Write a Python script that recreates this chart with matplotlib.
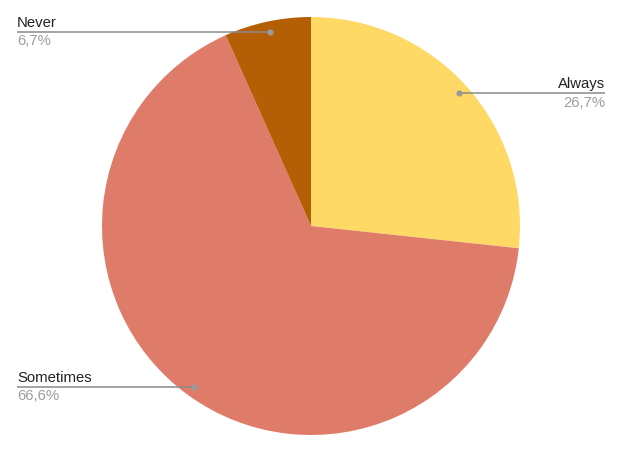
import numpy as np
import matplotlib
matplotlib.use("Agg")
import matplotlib.pyplot as plt

labels = ["Always", "Sometimes", "Never"]
values = [26.7, 66.6, 6.7]
pct_labels = ["26,7%", "66,6%", "6,7%"]
colors = ["#FFD966", "#DF7C69", "#B45F06"]

W, H = 622, 449
fig = plt.figure(figsize=(W / 100, H / 100), dpi=100)
ax = fig.add_axes([0, 0, 1, 1])

cx, cy, R = 311, H - 226, 209
ax.pie(values, colors=colors, startangle=90, counterclock=False,
       center=(cx, cy), radius=R, frame=True,
       wedgeprops=dict(linewidth=0))
ax.set_xlim(0, W)
ax.set_ylim(0, H)
ax.set_aspect("equal")
ax.axis("off")

plt.rcParams['font.family'] = ['Liberation Sans', 'DejaVu Sans']

# label anchors: side of the chart the label goes to
side = {"Always": "right", "Sometimes": "left", "Never": "left"}
total = sum(values)
cum = 0
for lab, v, pct in zip(labels, values, pct_labels):
    mid = (cum + v / 2) / total * 2 * np.pi
    cum += v
    px = cx + 0.95 * R * np.sin(mid)
    py = cy + 0.95 * R * np.cos(mid)
    if side[lab] == "right":
        x_end, ha = 605, "right"
    else:
        x_end, ha = 17, "left"
    ax.plot([px, x_end], [py, py], color="#8a8a8a", lw=1.1, solid_capstyle="butt")
    ax.plot(px, py, "o", color="#9a9a9a", ms=3.5)
    ax.text(x_end, py + 2, lab, ha=ha, va="bottom", fontsize=10.7, color="#222222")
    ax.text(x_end, py - 2.5, pct, ha=ha, va="top", fontsize=10.7, color="#9e9e9e")

fig.savefig("out.png", dpi=100)
